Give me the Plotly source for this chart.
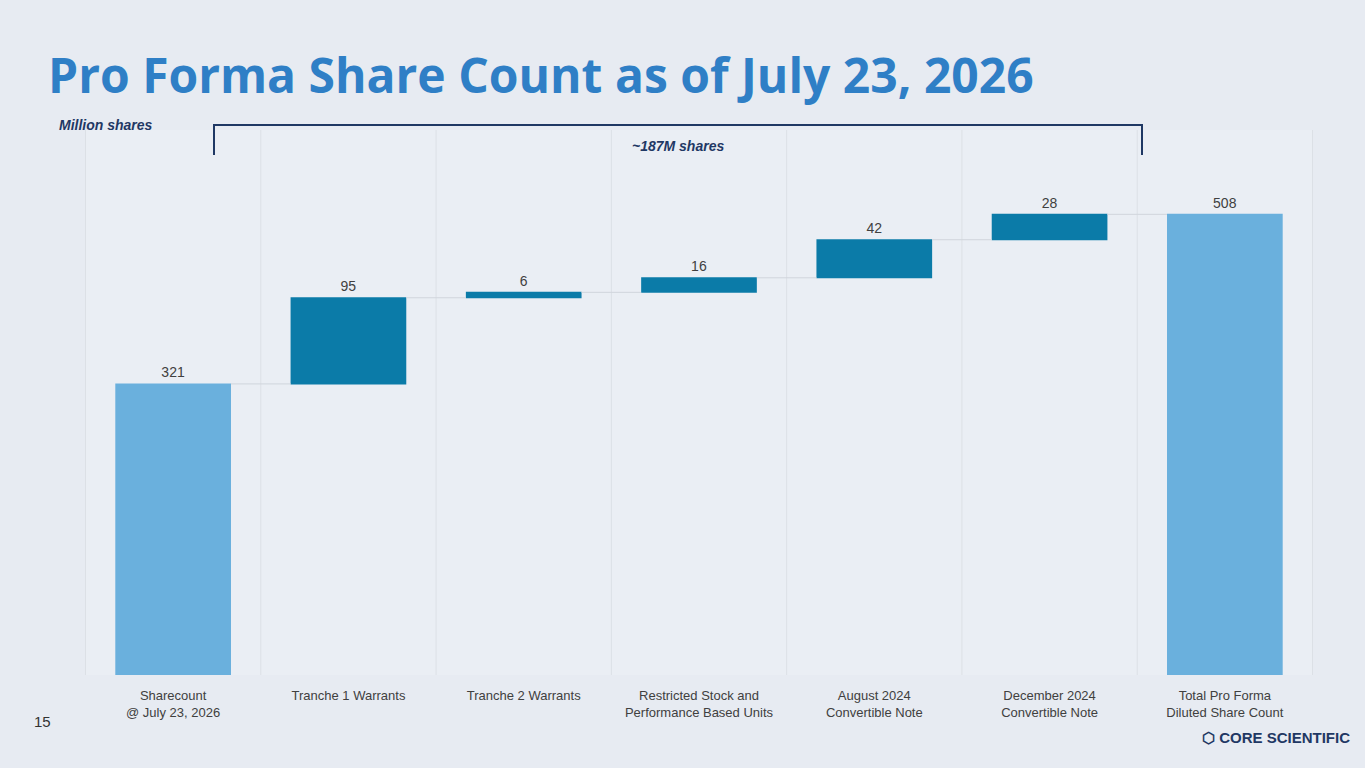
import plotly.graph_objects as go

categories = ["Sharecount<br>@ July 23, 2026", "Tranche 1 Warrants", "Tranche 2 Warrants",
              "Restricted Stock and<br>Performance Based Units", "August 2024<br>Convertible Note",
              "December 2024<br>Convertible Note", "Total Pro Forma<br>Diluted Share Count"]
values = [321, 95, 6, 16, 42, 28, 508]
measures = ["absolute", "relative", "relative", "relative", "relative", "relative", "total"]
labels = ["321", "95", "6", "16", "42", "28", "508"]

L, R, T, B = 85, 52, 130, 93
W, H = 1365, 768
pw, ph = W - L - R, H - T - B


def px(x):
    return (x - L) / pw


def py(y):
    return (H - B - y) / ph


fig = go.Figure(go.Waterfall(
    x=categories, y=values, measure=measures, text=labels,
    textposition="outside", textfont=dict(size=14, color="#404040", family="Arial"),
    increasing=dict(marker=dict(color="#0B7BA8")),
    totals=dict(marker=dict(color="#6AB0DD")),
    connector=dict(line=dict(color="#D0D5DC", width=1)),
    width=0.66, cliponaxis=False,
))

shapes = []
for i in range(8):
    shapes.append(dict(type="line", xref="x", yref="paper", x0=i - 0.5, x1=i - 0.5, y0=0, y1=1,
                       line=dict(color="#DCE0E6", width=1), layer="below"))
# bracket
bx0, bx1, by0, by1 = px(214), px(1142), py(155), py(125)
shapes.append(dict(type="path", xref="paper", yref="paper",
                   path=f"M {bx0},{by0} L {bx0},{by1} L {bx1},{by1} L {bx1},{by0}",
                   line=dict(color="#1F3864", width=2)))

fig.update_layout(
    width=W, height=H, margin=dict(l=L, r=R, t=T, b=B),
    paper_bgcolor="#E7EBF2", plot_bgcolor="#EAEEF4",
    showlegend=False, shapes=shapes,
    xaxis=dict(tickfont=dict(size=13, color="#404040", family="Arial"), showgrid=False,
               ticks="outside", ticklen=8, tickcolor="rgba(0,0,0,0)"),
    yaxis=dict(range=[0, 601], visible=False),
    font=dict(family="Arial"),
    annotations=[
        dict(text="<b>Pro Forma Share Count as of July 23, 2026</b>", xref="paper", yref="paper",
             x=px(46), y=py(75), xanchor="left", yanchor="middle", showarrow=False,
             font=dict(size=48, color="#2F7FC6", family="Open Sans")),
        dict(text="<b><i>Million shares</i></b>", xref="paper", yref="paper", x=px(57), y=py(125),
             xanchor="left", yanchor="middle", showarrow=False, font=dict(size=14, color="#1F3864")),
        dict(text="<b><i>~187M shares</i></b>", xref="paper", yref="paper", x=px(678), y=py(146),
             xanchor="center", yanchor="middle", showarrow=False, font=dict(size=14, color="#1F3864")),
        dict(text="15", xref="paper", yref="paper", x=px(42), y=py(721),
             xanchor="center", yanchor="middle", showarrow=False, font=dict(size=15, color="#333333")),
        dict(text="<b>⬡ CORE SCIENTIFIC</b>", xref="paper", yref="paper", x=px(1352), y=py(737),
             xanchor="right", yanchor="middle", showarrow=False, font=dict(size=15, color="#1F3864")),
    ],
)

fig.write_html("out.html", config={"displayModeBar": False},
               post_script="document.body.style.margin='0';")
